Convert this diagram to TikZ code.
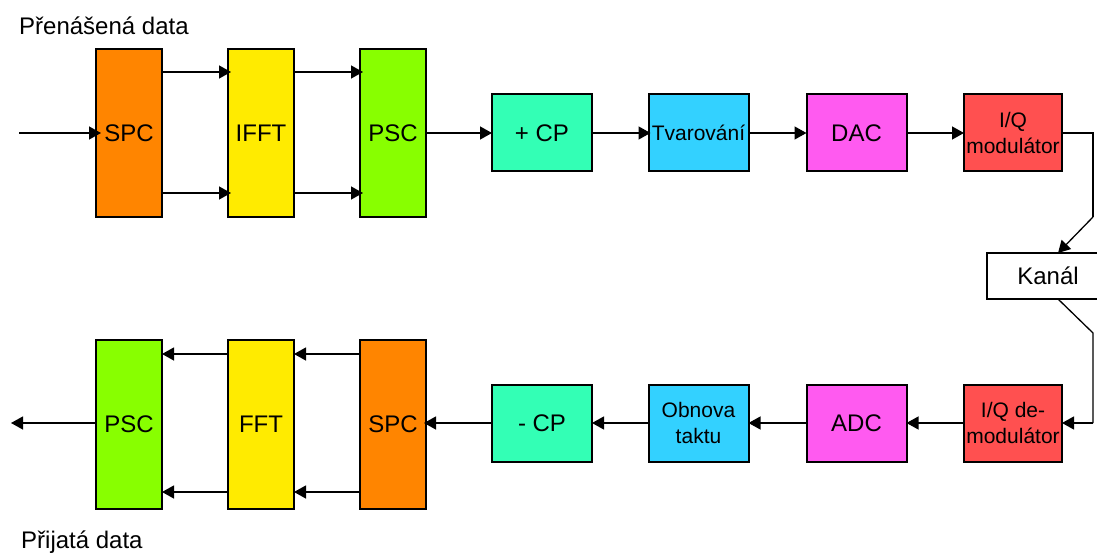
\documentclass[tikz,border=0pt]{standalone}
\usepackage{fontspec}
\setmainfont{Liberation Sans}
\usetikzlibrary{arrows.meta}
\definecolor{corange}{HTML}{FF8500}
\definecolor{cyellow}{HTML}{FFEB00}
\definecolor{cgreen}{HTML}{88FF00}
\definecolor{cteal}{HTML}{33FFB5}
\definecolor{ccyan}{HTML}{33D1FF}
\definecolor{cmag}{HTML}{FF5AF0}
\definecolor{cred}{HTML}{FF5050}
\begin{document}
\begin{tikzpicture}[x=1pt,y=-1pt,
  blk/.style={draw=black, line width=2pt, inner sep=0pt, outer sep=0pt, align=center},
  tall/.style={blk, minimum width=66pt, minimum height=168pt, font=\fontsize{24}{28}\selectfont},
  small/.style={blk, minimum width=100pt, minimum height=77pt, font=\fontsize{24}{28}\selectfont},
  smalltxt/.style={font=\fontsize{21}{26}\selectfont},
  arr/.style={line width=1.3pt, -{Triangle[length=12pt,width=13pt]}},
  ln/.style={line width=1.3pt},
  lbl/.style={anchor=base west, inner sep=0pt, font=\fontsize{24}{28}\selectfont}]
\useasboundingbox (0,0) rectangle (1097,556);
% top row
\node[tall, fill=corange] (spcA) at (129,133) {SPC};
\node[tall, fill=cyellow] (ifft) at (261,133) {IFFT};
\node[tall, fill=cgreen] (pscA) at (393,133) {PSC};
\node[small, fill=cteal] (cpA) at (542,133) {+ CP};
\node[small, fill=ccyan, smalltxt] (tvar) at (698.5,133) {Tvarování};
\node[small, fill=cmag] (dac) at (856.5,133) {DAC};
\node[small, fill=cred, minimum width=98pt, smalltxt] (iqm) at (1013,133) {I/Q\\modulátor};
% channel
\node[blk, fill=white, line width=1.3pt, minimum width=122pt, minimum height=46pt, font=\fontsize{24}{28}\selectfont] (kanal) at (1048,276) {Kanál};
% bottom row
\node[small, fill=cred, minimum width=98pt, smalltxt] (iqd) at (1013,423) {I/Q de-\\modulátor};
\node[small, fill=cmag] (adc) at (856.5,423) {ADC};
\node[small, fill=ccyan, smalltxt] (obn) at (698.5,423) {Obnova\\taktu};
\node[small, fill=cteal] (cpB) at (542,423) {- CP};
\node[tall, fill=corange, minimum height=169pt] (spcB) at (393,424.5) {SPC};
\node[tall, fill=cyellow, minimum height=169pt] (fft) at (261,424.5) {FFT};
\node[tall, fill=cgreen, minimum height=169pt] (pscB) at (129,424.5) {PSC};
% labels
\node[lbl] (t1) at (19,35) {Přenášená data};
\node[lbl] (t2) at (21,548) {Přijatá data};
% coordinates
\coordinate (in) at (19,133);
\coordinate (out) at (11,423);
\coordinate (r1) at (1093,133);
\coordinate (r2) at (1093,217);
\coordinate (ktop) at (1058,253);
\coordinate (kbot) at (1058,299);
\coordinate (r3) at (1093,333);
\coordinate (r4) at (1093,423);
% top connectors
\draw[arr, shorten >=-5pt] (in) -- (spcA.west |- in);
\draw[arr, shorten >=-3pt] ([yshift=61pt]spcA.east) -- ([yshift=61pt]ifft.west);
\draw[arr, shorten >=-3pt] ([yshift=-60pt]spcA.east) -- ([yshift=-60pt]ifft.west);
\draw[arr, shorten >=-3pt] ([yshift=61pt]ifft.east) -- ([yshift=61pt]pscA.west);
\draw[arr, shorten >=-3pt] ([yshift=-60pt]ifft.east) -- ([yshift=-60pt]pscA.west);
\draw[arr] (pscA.east |- cpA.west) -- (cpA.west);
\draw[arr, shorten >=-2pt] (cpA.east) -- (tvar.west);
\draw[arr] (tvar.east) -- (dac.west);
\draw[arr] (dac.east) -- (iqm.west);
\draw[ln] (iqm.east) -- (r1) -- (r2);
\draw[arr] (r2) -- (ktop);
\draw[ln] (kbot) -- (r3) -- (r4);
\draw[arr] (r4) -- (iqd.east);
% bottom connectors
\draw[arr] (iqd.west) -- (adc.east);
\draw[arr] (adc.west) -- (obn.east);
\draw[arr] (obn.west) -- (cpB.east);
\draw[arr, shorten >=-2pt] (cpB.west) -- (spcB.east |- cpB.west);
\draw[arr] ([yshift=70.5pt]spcB.west) -- ([yshift=70.5pt]fft.east);
\draw[arr] ([yshift=-67.5pt]spcB.west) -- ([yshift=-67.5pt]fft.east);
\draw[arr] ([yshift=70.5pt]fft.west) -- ([yshift=70.5pt]pscB.east);
\draw[arr] ([yshift=-67.5pt]fft.west) -- ([yshift=-67.5pt]pscB.east);
\draw[arr] (pscB.west |- out) -- (out);
\end{tikzpicture}
\end{document}
